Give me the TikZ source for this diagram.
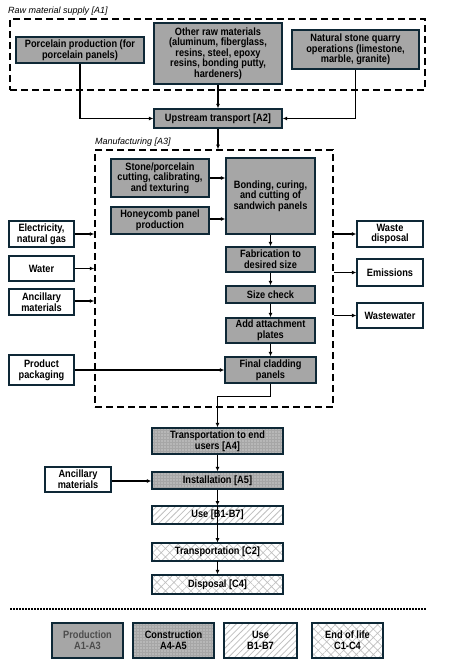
\documentclass[tikz,border=0pt]{standalone}
\usepackage{fontspec}
\setmainfont{Liberation Sans}
\newfontfamily\narrowsans{Liberation Sans}[FakeStretch=0.87]
\usetikzlibrary{arrows.meta}
\usetikzlibrary{patterns.meta}
\colorlet{boxgray}{black!35}
\definecolor{edge}{RGB}{14,40,54}
\colorlet{hatchgray}{black!25}
\tikzset{>={Latex[length=4.5pt,width=4pt]}}
\tikzset{
  base/.style={draw=edge, line width=1.4pt, inner sep=0pt, align=center,
    font=\narrowsans\fontsize{10.6}{10.6}\selectfont\bfseries},
  proc/.style={base, fill=boxgray},
  ext/.style={base, fill=white},
  cons/.style={base, preaction={fill=boxgray},
    pattern={Dots[distance=3pt,radius=0.6pt]}, pattern color=white!85!boxgray},
  usest/.style={base, preaction={fill=white},
    pattern={Lines[angle=45,distance=4.5pt,line width=0.8pt]}, pattern color=hatchgray},
  eol/.style={base, preaction={fill=white},
    pattern={Hatch[angle=45,distance=6pt,line width=0.6pt]}, pattern color=hatchgray},
  region/.style={draw, line width=1.5pt, dash pattern=on 7pt off 4pt, inner sep=0pt},
  flow/.style={->, line width=1.3pt},
  tag/.style={font=\fontsize{9}{10}\selectfont\itshape, inner sep=0pt, anchor=base west},
}

\begin{document}
\begin{tikzpicture}[x=1pt, y=-1pt]
    \useasboundingbox [fill=white] (0,0) rectangle (450,663);

    % raw material supply [A1]
    \node [region, minimum width=415, minimum height=71] (a1) at (217.5,54.5) {};
    \node [tag] (a1tag) at (8,13.5) {Raw material supply [A1]};
    \node [proc, minimum width=128, minimum height=26] (porc) at (80,50)
        {Porcelain production (for\\porcelain panels)};
    \node [proc, minimum width=128, minimum height=61] (other) at (218,53.5)
        {Other raw materials\\(aluminum, fiberglass,\\resins, steel, epoxy\\resins, bonding putty,\\hardeners)};
    \node [proc, minimum width=127, minimum height=39] (stone) at (355.5,49.5)
        {Natural stone quarry\\operations (limestone,\\marble, granite)};
    \node [proc, minimum width=128, minimum height=19] (upstr) at (218,118.5)
        {Upstream transport [A2]};

    % manufacturing [A3]
    \node [region, minimum width=238, minimum height=257] (a3) at (214,278.5) {};
    \node [tag] (a3tag) at (95,145) {Manufacturing [A3]};
    \node [proc, minimum width=98, minimum height=38] (cut) at (160,178)
        {Stone/porcelain\\cutting, calibrating,\\and texturing};
    \node [proc, minimum width=98, minimum height=27] (honey) at (160,220.5)
        {Honeycomb panel\\production};
    \node [proc, minimum width=89, minimum height=76] (bond) at (270.5,196)
        {Bonding, curing,\\and cutting of\\sandwich panels};
    \node [proc, minimum width=89, minimum height=25] (fab) at (270.5,259.5)
        {Fabrication to\\desired size};
    \node [proc, minimum width=89, minimum height=17] (check) at (270.5,294.5)
        {Size check};
    \node [proc, minimum width=89, minimum height=25] (plates) at (270.5,330.5)
        {Add attachment\\plates};
    \node [proc, minimum width=91, minimum height=26] (final) at (270.5,370)
        {Final cladding\\panels};

    % inputs and outputs
    \node [ext, minimum width=65, minimum height=26] (elec) at (41.5,234) {Electricity,\\natural gas};
    \node [ext, minimum width=65, minimum height=25] (water) at (41.5,268.5) {Water};
    \node [ext, minimum width=65, minimum height=26] (ancil) at (41.5,302) {Ancillary\\materials};
    \node [ext, minimum width=65, minimum height=30] (pack) at (41.5,370) {Product\\packaging};
    \node [ext, minimum width=66, minimum height=26] (waste) at (390,234) {Waste\\disposal};
    \node [ext, minimum width=66, minimum height=27] (emis) at (390,272.5) {Emissions};
    \node [ext, minimum width=66, minimum height=25] (wwater) at (390,315.5) {Wastewater};

    % later stages
    \node [cons, minimum width=131, minimum height=26] (trans) at (217.5,441)
        {Transportation to end\\users [A4]};
    \node [cons, minimum width=131, minimum height=17] (inst) at (217.5,480.5) {Installation [A5]};
    \node [ext, minimum width=66, minimum height=25] (ancil2) at (78,479.5) {Ancillary\\materials};
    \node [usest, minimum width=131, minimum height=18] (use) at (217.5,515) {Use [B1-B7]};
    \node [eol, minimum width=131, minimum height=18] (transc) at (217.5,552) {Transportation [C2]};
    \node [eol, minimum width=131, minimum height=19] (disp) at (217.5,584.5) {Disposal [C4]};

    % connectors
    \draw [flow] (porc.south) |- (upstr.west);
    \draw [flow] (stone.south) |- (upstr.east);
    \draw [flow] (other.south) -- (upstr.north);
    \draw [flow] (upstr.south) -- (upstr.south |- a3.north);
    \draw [flow] (cut.east) -- (cut.east -| bond.west);
    \draw [flow] (honey.east |- 0,219) -- (bond.west |- 0,219);
    \draw [flow] (bond.south) -- (fab.north);
    \draw [flow] (fab.south) -- (check.north);
    \draw [flow] (check.south) -- (plates.north);
    \draw [flow] (plates.south) -- (final.north);
    \draw [flow] (elec.east) -- (elec.east -| a3.west);
    \draw [flow] (water.east) -- (water.east -| a3.west);
    \draw [flow] (ancil.east |- 0,301) -- (a3.west |- 0,301);
    \draw [flow] (pack.east) -- (pack.east -| final.west);
    \draw [flow] (a3.east |- waste.west) -- (waste.west);
    \draw [flow] (a3.east |- emis.west) -- (emis.west);
    \draw [flow] (a3.east |- wwater.west) -- (wwater.west);
    \draw [flow] (final.south) -- ++(0,13) -| (trans.north);
    \draw [flow] (trans.south) -- (inst.north);
    \draw [flow] (ancil2.east |- 0,481) -- (inst.west |- 0,481);
    \draw [flow] (inst.south) -- (use.north);
    \draw [flow] (use.north) -- (transc.north);
    \draw [flow] (transc.south) -- (disp.north);

    % legend
    \draw [line width=1.5pt, dash pattern=on 1.6pt off 1.4pt] (10,609) -- (426,609);
    \node [proc, text=black!70, minimum width=71, minimum height=35] (lprod) at (87.5,640.5) {Production\\A1-A3};
    \node [cons, minimum width=81, minimum height=35] (lcons) at (173.5,640.5) {Construction\\A4-A5};
    \node [usest, minimum width=73, minimum height=35] (luse) at (260.5,640.5) {Use\\B1-B7};
    \node [eol, minimum width=71, minimum height=35] (leol) at (347.5,640.5) {End of life\\C1-C4};
\end{tikzpicture}
\end{document}
